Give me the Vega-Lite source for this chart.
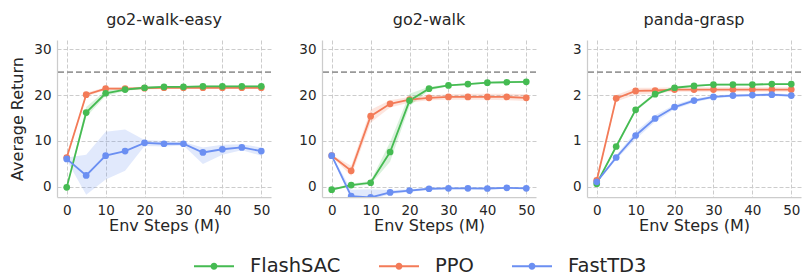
{
  "$schema": "https://vega.github.io/schema/vega-lite/v6.json",
  "background": "white",
  "padding": {"left": 9, "top": 12, "right": 4, "bottom": 3},
  "datasets": {
    "runs": [
      {"task": "go2-walk-easy", "algo": "PPO", "step": 0, "mean": 6.4, "lo": 6.1, "hi": 6.7},
      {"task": "go2-walk-easy", "algo": "PPO", "step": 5, "mean": 20.1, "lo": 19.7, "hi": 20.5},
      {"task": "go2-walk-easy", "algo": "PPO", "step": 10, "mean": 21.4, "lo": 21.1, "hi": 21.7},
      {"task": "go2-walk-easy", "algo": "PPO", "step": 15, "mean": 21.4, "lo": 21.1, "hi": 21.7},
      {"task": "go2-walk-easy", "algo": "PPO", "step": 20, "mean": 21.5, "lo": 21.2, "hi": 21.8},
      {"task": "go2-walk-easy", "algo": "PPO", "step": 25, "mean": 21.6, "lo": 21.3, "hi": 21.9},
      {"task": "go2-walk-easy", "algo": "PPO", "step": 30, "mean": 21.6, "lo": 21.3, "hi": 21.9},
      {"task": "go2-walk-easy", "algo": "PPO", "step": 35, "mean": 21.6, "lo": 21.3, "hi": 21.9},
      {"task": "go2-walk-easy", "algo": "PPO", "step": 40, "mean": 21.6, "lo": 21.3, "hi": 21.9},
      {"task": "go2-walk-easy", "algo": "PPO", "step": 45, "mean": 21.6, "lo": 21.3, "hi": 21.9},
      {"task": "go2-walk-easy", "algo": "PPO", "step": 50, "mean": 21.6, "lo": 21.3, "hi": 21.9},
      {"task": "go2-walk-easy", "algo": "FlashSAC", "step": 0, "mean": -0.1, "lo": -0.3, "hi": 0.1},
      {"task": "go2-walk-easy", "algo": "FlashSAC", "step": 5, "mean": 16.2, "lo": 15.2, "hi": 17.4},
      {"task": "go2-walk-easy", "algo": "FlashSAC", "step": 10, "mean": 20.4, "lo": 19.8, "hi": 21.0},
      {"task": "go2-walk-easy", "algo": "FlashSAC", "step": 15, "mean": 21.2, "lo": 20.9, "hi": 21.5},
      {"task": "go2-walk-easy", "algo": "FlashSAC", "step": 20, "mean": 21.6, "lo": 21.4, "hi": 21.8},
      {"task": "go2-walk-easy", "algo": "FlashSAC", "step": 25, "mean": 21.8, "lo": 21.6, "hi": 22.0},
      {"task": "go2-walk-easy", "algo": "FlashSAC", "step": 30, "mean": 21.8, "lo": 21.6, "hi": 22.0},
      {"task": "go2-walk-easy", "algo": "FlashSAC", "step": 35, "mean": 21.9, "lo": 21.7, "hi": 22.1},
      {"task": "go2-walk-easy", "algo": "FlashSAC", "step": 40, "mean": 21.9, "lo": 21.7, "hi": 22.1},
      {"task": "go2-walk-easy", "algo": "FlashSAC", "step": 45, "mean": 21.9, "lo": 21.7, "hi": 22.1},
      {"task": "go2-walk-easy", "algo": "FlashSAC", "step": 50, "mean": 21.9, "lo": 21.7, "hi": 22.1},
      {"task": "go2-walk-easy", "algo": "FastTD3", "step": 0, "mean": 6.1, "lo": 5.8, "hi": 6.4},
      {"task": "go2-walk-easy", "algo": "FastTD3", "step": 5, "mean": 2.5, "lo": -1.7, "hi": 7.0},
      {"task": "go2-walk-easy", "algo": "FastTD3", "step": 10, "mean": 6.8, "lo": 1.6, "hi": 12.0},
      {"task": "go2-walk-easy", "algo": "FastTD3", "step": 15, "mean": 7.8, "lo": 3.5, "hi": 12.5},
      {"task": "go2-walk-easy", "algo": "FastTD3", "step": 20, "mean": 9.6, "lo": 8.9, "hi": 10.2},
      {"task": "go2-walk-easy", "algo": "FastTD3", "step": 25, "mean": 9.4, "lo": 8.8, "hi": 10.0},
      {"task": "go2-walk-easy", "algo": "FastTD3", "step": 30, "mean": 9.4, "lo": 9.0, "hi": 9.8},
      {"task": "go2-walk-easy", "algo": "FastTD3", "step": 35, "mean": 7.5, "lo": 5.0, "hi": 8.6},
      {"task": "go2-walk-easy", "algo": "FastTD3", "step": 40, "mean": 8.2, "lo": 7.0, "hi": 9.2},
      {"task": "go2-walk-easy", "algo": "FastTD3", "step": 45, "mean": 8.6, "lo": 8.0, "hi": 9.3},
      {"task": "go2-walk-easy", "algo": "FastTD3", "step": 50, "mean": 7.8, "lo": 6.8, "hi": 8.6},

      {"task": "go2-walk", "algo": "PPO", "step": 0, "mean": 6.8, "lo": 6.6, "hi": 7.0},
      {"task": "go2-walk", "algo": "PPO", "step": 5, "mean": 3.5, "lo": 2.4, "hi": 4.6},
      {"task": "go2-walk", "algo": "PPO", "step": 10, "mean": 15.4, "lo": 14.0, "hi": 16.8},
      {"task": "go2-walk", "algo": "PPO", "step": 15, "mean": 18.1, "lo": 17.3, "hi": 18.9},
      {"task": "go2-walk", "algo": "PPO", "step": 20, "mean": 19.0, "lo": 18.4, "hi": 19.6},
      {"task": "go2-walk", "algo": "PPO", "step": 25, "mean": 19.4, "lo": 18.9, "hi": 19.9},
      {"task": "go2-walk", "algo": "PPO", "step": 30, "mean": 19.6, "lo": 19.0, "hi": 20.2},
      {"task": "go2-walk", "algo": "PPO", "step": 35, "mean": 19.6, "lo": 19.0, "hi": 20.3},
      {"task": "go2-walk", "algo": "PPO", "step": 40, "mean": 19.6, "lo": 19.0, "hi": 20.3},
      {"task": "go2-walk", "algo": "PPO", "step": 45, "mean": 19.6, "lo": 18.9, "hi": 20.3},
      {"task": "go2-walk", "algo": "PPO", "step": 50, "mean": 19.4, "lo": 18.7, "hi": 20.2},
      {"task": "go2-walk", "algo": "FlashSAC", "step": 0, "mean": -0.6, "lo": -0.8, "hi": -0.4},
      {"task": "go2-walk", "algo": "FlashSAC", "step": 5, "mean": 0.4, "lo": 0.1, "hi": 0.7},
      {"task": "go2-walk", "algo": "FlashSAC", "step": 10, "mean": 0.9, "lo": 0.5, "hi": 1.3},
      {"task": "go2-walk", "algo": "FlashSAC", "step": 15, "mean": 7.6, "lo": 5.5, "hi": 9.8},
      {"task": "go2-walk", "algo": "FlashSAC", "step": 20, "mean": 18.8, "lo": 17.6, "hi": 20.3},
      {"task": "go2-walk", "algo": "FlashSAC", "step": 25, "mean": 21.4, "lo": 21.0, "hi": 21.8},
      {"task": "go2-walk", "algo": "FlashSAC", "step": 30, "mean": 22.1, "lo": 21.9, "hi": 22.3},
      {"task": "go2-walk", "algo": "FlashSAC", "step": 35, "mean": 22.4, "lo": 22.2, "hi": 22.6},
      {"task": "go2-walk", "algo": "FlashSAC", "step": 40, "mean": 22.7, "lo": 22.5, "hi": 22.9},
      {"task": "go2-walk", "algo": "FlashSAC", "step": 45, "mean": 22.8, "lo": 22.6, "hi": 23.0},
      {"task": "go2-walk", "algo": "FlashSAC", "step": 50, "mean": 22.9, "lo": 22.7, "hi": 23.1},
      {"task": "go2-walk", "algo": "FastTD3", "step": 0, "mean": 6.8, "lo": 6.6, "hi": 7.0},
      {"task": "go2-walk", "algo": "FastTD3", "step": 5, "mean": -2.0, "lo": -2.6, "hi": -0.6},
      {"task": "go2-walk", "algo": "FastTD3", "step": 10, "mean": -2.3, "lo": -2.8, "hi": -0.5},
      {"task": "go2-walk", "algo": "FastTD3", "step": 15, "mean": -1.2, "lo": -1.6, "hi": -0.7},
      {"task": "go2-walk", "algo": "FastTD3", "step": 20, "mean": -0.8, "lo": -1.1, "hi": -0.5},
      {"task": "go2-walk", "algo": "FastTD3", "step": 25, "mean": -0.4, "lo": -0.6, "hi": -0.2},
      {"task": "go2-walk", "algo": "FastTD3", "step": 30, "mean": -0.3, "lo": -0.5, "hi": -0.1},
      {"task": "go2-walk", "algo": "FastTD3", "step": 35, "mean": -0.3, "lo": -0.5, "hi": -0.1},
      {"task": "go2-walk", "algo": "FastTD3", "step": 40, "mean": -0.35, "lo": -0.5, "hi": -0.2},
      {"task": "go2-walk", "algo": "FastTD3", "step": 45, "mean": -0.2, "lo": -0.4, "hi": 0.0},
      {"task": "go2-walk", "algo": "FastTD3", "step": 50, "mean": -0.3, "lo": -0.5, "hi": -0.1},

      {"task": "panda-grasp", "algo": "PPO", "step": 0, "mean": 0.14, "lo": 0.1, "hi": 0.18},
      {"task": "panda-grasp", "algo": "PPO", "step": 5, "mean": 1.93, "lo": 1.86, "hi": 2.0},
      {"task": "panda-grasp", "algo": "PPO", "step": 10, "mean": 2.09, "lo": 2.01, "hi": 2.16},
      {"task": "panda-grasp", "algo": "PPO", "step": 15, "mean": 2.1, "lo": 2.04, "hi": 2.16},
      {"task": "panda-grasp", "algo": "PPO", "step": 20, "mean": 2.12, "lo": 2.07, "hi": 2.17},
      {"task": "panda-grasp", "algo": "PPO", "step": 25, "mean": 2.12, "lo": 2.07, "hi": 2.17},
      {"task": "panda-grasp", "algo": "PPO", "step": 30, "mean": 2.12, "lo": 2.07, "hi": 2.17},
      {"task": "panda-grasp", "algo": "PPO", "step": 35, "mean": 2.12, "lo": 2.07, "hi": 2.17},
      {"task": "panda-grasp", "algo": "PPO", "step": 40, "mean": 2.12, "lo": 2.07, "hi": 2.17},
      {"task": "panda-grasp", "algo": "PPO", "step": 45, "mean": 2.12, "lo": 2.07, "hi": 2.17},
      {"task": "panda-grasp", "algo": "PPO", "step": 50, "mean": 2.12, "lo": 2.07, "hi": 2.17},
      {"task": "panda-grasp", "algo": "FlashSAC", "step": 0, "mean": 0.07, "lo": 0.05, "hi": 0.09},
      {"task": "panda-grasp", "algo": "FlashSAC", "step": 5, "mean": 0.88, "lo": 0.84, "hi": 0.92},
      {"task": "panda-grasp", "algo": "FlashSAC", "step": 10, "mean": 1.68, "lo": 1.64, "hi": 1.72},
      {"task": "panda-grasp", "algo": "FlashSAC", "step": 15, "mean": 2.02, "lo": 1.99, "hi": 2.05},
      {"task": "panda-grasp", "algo": "FlashSAC", "step": 20, "mean": 2.16, "lo": 2.13, "hi": 2.19},
      {"task": "panda-grasp", "algo": "FlashSAC", "step": 25, "mean": 2.2, "lo": 2.18, "hi": 2.22},
      {"task": "panda-grasp", "algo": "FlashSAC", "step": 30, "mean": 2.23, "lo": 2.21, "hi": 2.25},
      {"task": "panda-grasp", "algo": "FlashSAC", "step": 35, "mean": 2.23, "lo": 2.21, "hi": 2.25},
      {"task": "panda-grasp", "algo": "FlashSAC", "step": 40, "mean": 2.23, "lo": 2.21, "hi": 2.25},
      {"task": "panda-grasp", "algo": "FlashSAC", "step": 45, "mean": 2.24, "lo": 2.22, "hi": 2.26},
      {"task": "panda-grasp", "algo": "FlashSAC", "step": 50, "mean": 2.24, "lo": 2.22, "hi": 2.26},
      {"task": "panda-grasp", "algo": "FastTD3", "step": 0, "mean": 0.11, "lo": 0.09, "hi": 0.13},
      {"task": "panda-grasp", "algo": "FastTD3", "step": 5, "mean": 0.64, "lo": 0.59, "hi": 0.69},
      {"task": "panda-grasp", "algo": "FastTD3", "step": 10, "mean": 1.12, "lo": 1.04, "hi": 1.2},
      {"task": "panda-grasp", "algo": "FastTD3", "step": 15, "mean": 1.49, "lo": 1.42, "hi": 1.56},
      {"task": "panda-grasp", "algo": "FastTD3", "step": 20, "mean": 1.74, "lo": 1.69, "hi": 1.79},
      {"task": "panda-grasp", "algo": "FastTD3", "step": 25, "mean": 1.88, "lo": 1.84, "hi": 1.92},
      {"task": "panda-grasp", "algo": "FastTD3", "step": 30, "mean": 1.96, "lo": 1.93, "hi": 1.99},
      {"task": "panda-grasp", "algo": "FastTD3", "step": 35, "mean": 1.99, "lo": 1.96, "hi": 2.02},
      {"task": "panda-grasp", "algo": "FastTD3", "step": 40, "mean": 2.0, "lo": 1.97, "hi": 2.03},
      {"task": "panda-grasp", "algo": "FastTD3", "step": 45, "mean": 2.01, "lo": 1.98, "hi": 2.04},
      {"task": "panda-grasp", "algo": "FastTD3", "step": 50, "mean": 1.99, "lo": 1.96, "hi": 2.02}
    ],
    "refs": [
      {"task": "go2-walk-easy", "target": 25},
      {"task": "go2-walk", "target": 25},
      {"task": "panda-grasp", "target": 2.5}
    ]
  },
  "spacing": 51,
  "bounds": "flush",
  "hconcat": [
    {
      "width": 214, "height": 157,
      "title": {"text": "go2-walk-easy", "fontWeight": "normal"},
      "layer": [
        {"data": {"name": "runs"}, "transform": [{"filter": "datum.task === 'go2-walk-easy'"}],
         "mark": {"type": "area", "opacity": 0.2, "clip": true},
         "encoding": {
           "x": {"field": "step", "type": "quantitative", "scale": {"domain": [-2.5, 52.5], "nice": false, "zero": false}, "axis": {"values": [0, 10, 20, 30, 40, 50], "title": "Env Steps (M)"}},
           "y": {"field": "lo", "type": "quantitative", "scale": {"domain": [-2.2, 32], "nice": false, "zero": false}, "axis": {"values": [0, 10, 20, 30], "title": "Average Return"}},
           "y2": {"field": "hi"},
           "color": {"field": "algo", "type": "nominal"},
           "detail": {"field": "algo"}
         }},
        {"data": {"name": "refs"}, "transform": [{"filter": "datum.task === 'go2-walk-easy'"}],
         "mark": {"type": "rule", "color": "#999999", "strokeWidth": 1.6, "strokeDash": [6, 3]},
         "encoding": {"y": {"field": "target", "type": "quantitative"}}},
        {"data": {"name": "runs"}, "transform": [{"filter": "datum.task === 'go2-walk-easy'"}],
         "mark": {"type": "line", "strokeWidth": 1.8, "clip": true},
         "encoding": {
           "x": {"field": "step", "type": "quantitative"},
           "y": {"field": "mean", "type": "quantitative"},
           "color": {"field": "algo", "type": "nominal"}
         }},
        {"data": {"name": "runs"}, "transform": [{"filter": "datum.task === 'go2-walk-easy'"}],
         "mark": {"type": "point", "filled": true, "opacity": 1, "size": 45, "clip": true},
         "encoding": {
           "x": {"field": "step", "type": "quantitative"},
           "y": {"field": "mean", "type": "quantitative"},
           "color": {"field": "algo", "type": "nominal"}
         }}
      ]
    },
    {
      "width": 214, "height": 157,
      "title": {"text": "go2-walk", "fontWeight": "normal"},
      "layer": [
        {"data": {"name": "runs"}, "transform": [{"filter": "datum.task === 'go2-walk'"}],
         "mark": {"type": "area", "opacity": 0.2, "clip": true},
         "encoding": {
           "x": {"field": "step", "type": "quantitative", "scale": {"domain": [-2.5, 52.5], "nice": false, "zero": false}, "axis": {"values": [0, 10, 20, 30, 40, 50], "title": "Env Steps (M)"}},
           "y": {"field": "lo", "type": "quantitative", "scale": {"domain": [-2.2, 32], "nice": false, "zero": false}, "axis": {"values": [0, 10, 20, 30], "title": null}},
           "y2": {"field": "hi"},
           "color": {"field": "algo", "type": "nominal"},
           "detail": {"field": "algo"}
         }},
        {"data": {"name": "refs"}, "transform": [{"filter": "datum.task === 'go2-walk'"}],
         "mark": {"type": "rule", "color": "#999999", "strokeWidth": 1.6, "strokeDash": [6, 3]},
         "encoding": {"y": {"field": "target", "type": "quantitative"}}},
        {"data": {"name": "runs"}, "transform": [{"filter": "datum.task === 'go2-walk'"}],
         "mark": {"type": "line", "strokeWidth": 1.8, "clip": true},
         "encoding": {
           "x": {"field": "step", "type": "quantitative"},
           "y": {"field": "mean", "type": "quantitative"},
           "color": {"field": "algo", "type": "nominal"}
         }},
        {"data": {"name": "runs"}, "transform": [{"filter": "datum.task === 'go2-walk'"}],
         "mark": {"type": "point", "filled": true, "opacity": 1, "size": 45, "clip": true},
         "encoding": {
           "x": {"field": "step", "type": "quantitative"},
           "y": {"field": "mean", "type": "quantitative"},
           "color": {"field": "algo", "type": "nominal"}
         }}
      ]
    },
    {
      "width": 214, "height": 157,
      "title": {"text": "panda-grasp", "fontWeight": "normal"},
      "layer": [
        {"data": {"name": "runs"}, "transform": [{"filter": "datum.task === 'panda-grasp'"}],
         "mark": {"type": "area", "opacity": 0.2, "clip": true},
         "encoding": {
           "x": {"field": "step", "type": "quantitative", "scale": {"domain": [-2.5, 52.5], "nice": false, "zero": false}, "axis": {"values": [0, 10, 20, 30, 40, 50], "title": "Env Steps (M)"}},
           "y": {"field": "lo", "type": "quantitative", "scale": {"domain": [-0.22, 3.2], "nice": false, "zero": false}, "axis": {"values": [0, 1, 2, 3], "title": null}},
           "y2": {"field": "hi"},
           "color": {"field": "algo", "type": "nominal"},
           "detail": {"field": "algo"}
         }},
        {"data": {"name": "refs"}, "transform": [{"filter": "datum.task === 'panda-grasp'"}],
         "mark": {"type": "rule", "color": "#999999", "strokeWidth": 1.6, "strokeDash": [6, 3]},
         "encoding": {"y": {"field": "target", "type": "quantitative"}}},
        {"data": {"name": "runs"}, "transform": [{"filter": "datum.task === 'panda-grasp'"}],
         "mark": {"type": "line", "strokeWidth": 1.8, "clip": true},
         "encoding": {
           "x": {"field": "step", "type": "quantitative"},
           "y": {"field": "mean", "type": "quantitative"},
           "color": {"field": "algo", "type": "nominal"}
         }},
        {"data": {"name": "runs"}, "transform": [{"filter": "datum.task === 'panda-grasp'"}],
         "mark": {"type": "point", "filled": true, "opacity": 1, "size": 45, "clip": true},
         "encoding": {
           "x": {"field": "step", "type": "quantitative"},
           "y": {"field": "mean", "type": "quantitative"},
           "color": {"field": "algo", "type": "nominal",
             "scale": {"domain": ["FlashSAC", "PPO", "FastTD3"], "range": ["#45bb52", "#f37b58", "#6b8ff2"]},
             "legend": {"orient": "none", "direction": "horizontal", "legendX": 137, "legendY": 206, "title": null, "symbolOpacity": 1}}
         }}
      ]
    }
  ],
  "resolve": {"scale": {"y": "independent", "x": "independent", "color": "shared"}},
  "config": {
    "font": "DejaVu Sans",
    "view": {"stroke": null},
    "style": {"group-title": {"fontWeight": "normal"}},
    "title": {"fontSize": 16, "fontWeight": "normal", "color": "#262626", "offset": 12, "anchor": "middle"},
    "axis": {
      "labelFontSize": 13.5, "labelColor": "#262626", "titleFontSize": 16, "titleFontWeight": "normal", "titleColor": "#262626",
      "tickSize": 0, "labelPadding": 6, "domainColor": "#cccccc", "domainWidth": 1.25,
      "grid": true, "gridColor": "#cccccc", "gridDash": [4, 2], "gridWidth": 1
    },
    "axisX": {"titlePadding": 1},
    "axisY": {"titlePadding": 8, "domain": true},
    "legend": {
      "labelFontSize": 19.5, "labelColor": "#262626", "labelOffset": 16,
      "columnPadding": 38, "symbolSize": 1600, "symbolOpacity": 1,
      "symbolType": "M-1,-0.055H1V0.055H-1Z M0.175,0A0.175,0.175 0 1,1 -0.175,0A0.175,0.175 0 1,1 0.175,0Z",
      "symbolStrokeWidth": 0
    }
  }
}
